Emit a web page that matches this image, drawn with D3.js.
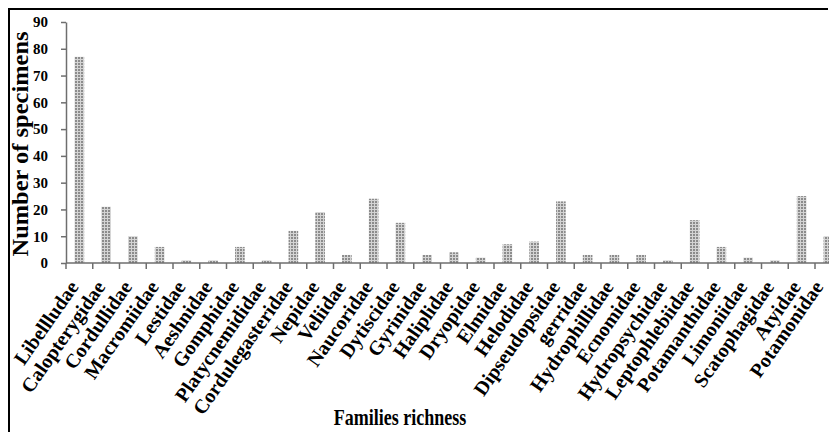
<!DOCTYPE html>
<html>
<head>
<meta charset="utf-8">
<script src="https://cdn.jsdelivr.net/npm/d3@7"></script>
<style>
  body { margin: 0; background: #fff; }
  text { font-family: "Liberation Serif", "Times New Roman", serif; font-weight: bold; }
</style>
</head>
<body>
<svg id="chart" width="829" height="432"></svg>
<script>
const families = [
  "Libellludae", "Calopterygidae", "Cordullidae", "Macromiidae", "Lestidae",
  "Aeshnidae", "Gomphidae", "Platycnemididae", "Cordulegasteridae", "Nepidae",
  "Veliidae", "Naucoridae", "Dytiscidae", "Gyrinidae", "Haliplidae",
  "Dryopidae", "Elmidae", "Helodidae", "Dipseudopsidae", "gerridae",
  "Hydrophillidae", "Ecnomidae", "Hydropsychidae", "Leptophlebiidae", "Potamanthidae",
  "Limoniidae", "Scatophagidae", "Atyidae", "Potamonidae"
];
const specimens = [
  77, 21, 10, 6, 1,
  1, 6, 1, 12, 19,
  3, 24, 15, 3, 4,
  2, 7, 8, 23, 3,
  3, 3, 1, 16, 6,
  2, 1, 25, 10
];
const yTicks = [0, 10, 20, 30, 40, 50, 60, 70, 80, 90];

const svg = d3.select("#chart");
const width = Number(svg.attr("width"));
const height = Number(svg.attr("height"));
const axisColor = "#6e6e6e";

svg.append("rect").attr("width", width).attr("height", height).attr("fill", "#fff");

// frame (only left and top edges survive the crop)
svg.append("path")
  .attr("d", `M9,${height} V9 H828`)
  .attr("fill", "none")
  .attr("stroke", "#000")
  .attr("stroke-width", 2);

// dotted grey fill of the bars
const defs = svg.append("defs");
const pat = defs.append("pattern")
  .attr("id", "dots")
  .attr("width", 3)
  .attr("height", 3)
  .attr("patternUnits", "userSpaceOnUse");
pat.append("rect").attr("width", 3).attr("height", 3).attr("fill", "#d4d4d4");
pat.append("rect").attr("width", 2).attr("height", 2).attr("fill", "#8c8c8c");

const x0 = 66;
const step = 26.75;
const x = d3.scaleBand()
  .domain(families)
  .range([x0, x0 + step * families.length])
  .paddingInner(0.64)
  .paddingOuter(0.32);

const y = d3.scaleLinear().domain([0, 90]).range([263, 22]);

// bars
svg.append("g")
  .selectAll("rect.bar")
  .data(families)
  .join("rect")
  .attr("class", "bar")
  .attr("x", (d) => x(d))
  .attr("width", x.bandwidth())
  .attr("y", (d, i) => y(specimens[i]))
  .attr("height", (d, i) => y(0) - y(specimens[i]))
  .attr("fill", "url(#dots)");

// y axis
const yAxis = svg.append("g")
  .attr("transform", `translate(${x0}, 0)`)
  .call(d3.axisLeft(y).tickValues(yTicks).tickSize(5).tickPadding(13).tickSizeOuter(0));
yAxis.select(".domain").attr("stroke", axisColor).attr("stroke-width", 1.5);
yAxis.selectAll(".tick line").attr("stroke", axisColor).attr("stroke-width", 1.5);
yAxis.selectAll(".tick text")
  .attr("fill", "#000")
  .attr("font-size", 15)
  .style("font-family", "'Liberation Serif', serif")
  .style("font-weight", "bold");

// x axis: line with ticks between categories
const xAxis = svg.append("g");
xAxis.append("line")
  .attr("x1", x0).attr("x2", x.range()[1])
  .attr("y1", y(0)).attr("y2", y(0))
  .attr("stroke", axisColor).attr("stroke-width", 1.5);
xAxis.selectAll("line.tick")
  .data(d3.range(families.length + 1))
  .join("line")
  .attr("class", "tick")
  .attr("x1", (i) => x0 + i * x.step())
  .attr("x2", (i) => x0 + i * x.step())
  .attr("y1", y(0))
  .attr("y2", y(0) + 6)
  .attr("stroke", axisColor)
  .attr("stroke-width", 1.5);

// rotated category labels (last one kept inside the crop)
xAxis.selectAll("text.cat")
  .data(families)
  .join("text")
  .attr("class", "cat")
  .attr("text-anchor", "end")
  .attr("font-size", 20)
  .attr("fill", "#000")
  .attr("transform", (d) => `translate(${Math.min(x(d) + x.bandwidth() / 2, width - 5)}, ${y(0) + 24}) rotate(-55)`)
  .text((d) => d);

// axis titles
svg.append("text")
  .attr("text-anchor", "middle")
  .attr("font-size", 18)
  .attr("fill", "#000")
  .attr("transform", "translate(400, 425) scale(1,1.3)")
  .text("Families richness");

svg.append("text")
  .attr("text-anchor", "middle")
  .attr("font-size", 23)
  .attr("fill", "#000")
  .attr("textLength", 225)
  .attr("lengthAdjust", "spacingAndGlyphs")
  .attr("transform", "translate(28, 144) rotate(-90)")
  .text("Number of specimens");
</script>
</body>
</html>
